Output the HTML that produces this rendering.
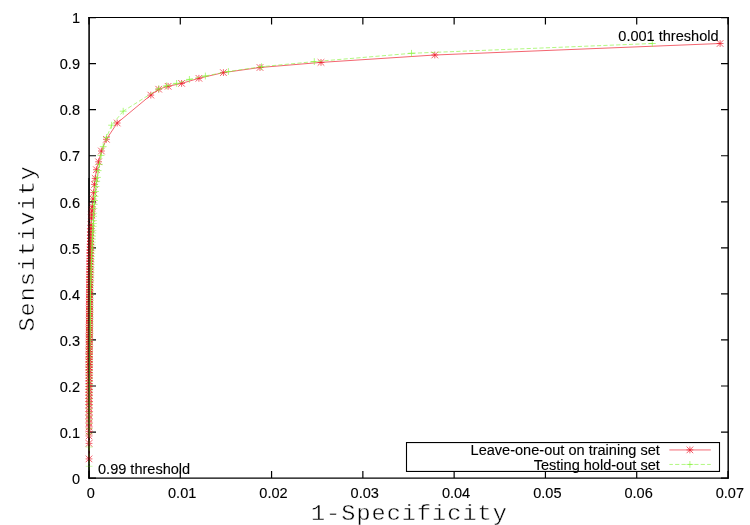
<!DOCTYPE html>
<html lang="en"><head><meta charset="utf-8"><title>ROC curve</title>
<style>html,body{margin:0;padding:0;background:#fff}body{width:750px;height:525px;overflow:hidden}svg{display:block}
.t{font-family:"Liberation Sans",Arial,sans-serif;font-size:14.55px;fill:#000;stroke:#000;stroke-width:0.12px}
.m{font-family:"Liberation Mono","DejaVu Sans Mono",monospace;font-size:21.8px;letter-spacing:0.95px;fill:#000;stroke:#fff;stroke-width:0.42px;paint-order:fill stroke}
</style></head><body>
<svg width="750" height="525" viewBox="0 0 750 525">
<rect width="750" height="525" fill="#fff"/>
<g stroke="#000" fill="none">
<path d="M89.1 16.9V478.8" stroke-width="1.7" stroke="#161616"/><path d="M728.2 16.9V478.8" stroke-width="1.6" stroke="#161616"/>
<path d="M88.3 17.5H728.7" stroke-width="1.2"/>
<path d="M88.3 478.15H728.7" stroke-width="1.4"/>
<path d="M89 478v-7M89 17.5v7M180.29 478v-7M180.29 17.5v7M271.57 478v-7M271.57 17.5v7M362.86 478v-7M362.86 17.5v7M454.14 478v-7M454.14 17.5v7M545.43 478v-7M545.43 17.5v7M636.71 478v-7M636.71 17.5v7M728 478v-7M728 17.5v7M89 478.1h7M728 478.1h-7M89 432.05h7M728 432.05h-7M89 386h7M728 386h-7M89 339.95h7M728 339.95h-7M89 293.9h7M728 293.9h-7M89 247.85h7M728 247.85h-7M89 201.8h7M728 201.8h-7M89 155.75h7M728 155.75h-7M89 109.7h7M728 109.7h-7M89 63.65h7M728 63.65h-7M89 17.6h7M728 17.6h-7" stroke-width="1.2"/>
</g>
<g class="t">
<text x="80" y="483.8" text-anchor="end">0</text>
<text x="80" y="437.75" text-anchor="end">0.1</text>
<text x="80" y="391.7" text-anchor="end">0.2</text>
<text x="80" y="345.65" text-anchor="end">0.3</text>
<text x="80" y="299.6" text-anchor="end">0.4</text>
<text x="80" y="253.55" text-anchor="end">0.5</text>
<text x="80" y="207.5" text-anchor="end">0.6</text>
<text x="80" y="161.45" text-anchor="end">0.7</text>
<text x="80" y="115.4" text-anchor="end">0.8</text>
<text x="80" y="69.35" text-anchor="end">0.9</text>
<text x="80" y="23.3" text-anchor="end">1</text>
<text x="90.9" y="498" text-anchor="middle">0</text>
<text x="182.19" y="498" text-anchor="middle">0.01</text>
<text x="273.47" y="498" text-anchor="middle">0.02</text>
<text x="364.76" y="498" text-anchor="middle">0.03</text>
<text x="456.04" y="498" text-anchor="middle">0.04</text>
<text x="547.33" y="498" text-anchor="middle">0.05</text>
<text x="638.61" y="498" text-anchor="middle">0.06</text>
<text x="729.9" y="498" text-anchor="middle">0.07</text>
</g>
<text class="m" transform="translate(409.4 519.6) scale(1.08 1)" text-anchor="middle">1-Specificity</text>
<text class="m" transform="translate(34.4 248.3) rotate(-90) scale(1.08 1)" text-anchor="middle">Sensitivity</text>
<g fill="none" stroke="#ee1c2c">
<path d="M720.1 43.5L434.8 55L321 62.4L260 67.5L223.4 72.6L198.9 78.3L181.6 83.4L168.1 86.3L158.7 89.2L150.8 95.1L117.2 123L106.4 139.3L101.4 151L98.6 161.8L96.4 169.7L95.2 178.4L94.5 184.4L93.7 192.6L93 199L92.3 206.7L91.9 211L91.6 214.9L91.4 218.1L91 225.1L90.9 228.5L90.75 232L90.6 235.2L90.53 238.27L90.46 241.29L90.39 244.27L90.33 247.2L90.26 250.09L90.2 252.94L90.14 255.74L90.08 258.5L90.02 261.23L89.98 263.92L89.95 266.59L89.91 269.24L89.88 271.87L89.85 274.48L89.82 277.07L89.79 279.64L89.76 282.2L89.73 284.73L89.7 287.24L89.67 289.74L89.64 292.22L89.61 294.67L89.58 297.11L89.56 299.54L89.54 301.94L89.52 304.33L89.5 306.72L89.49 309.1L89.47 311.47L89.45 313.83L89.44 316.18L89.42 318.53L89.4 320.87L89.39 323.2L89.37 325.52L89.36 327.83L89.34 330.14L89.32 332.44L89.31 334.77L89.29 337.12L89.27 339.49L89.26 341.88L89.24 344.3L89.22 346.74L89.21 349.21L89.19 351.7L89.19 354.22L89.18 356.76L89.17 359.33L89.16 361.92L89.16 364.54L89.15 367.19L89.14 369.86L89.13 372.56L89.12 375.28L89.12 378.04L89.11 380.82L89.1 383.62L89.09 386.46L89.08 389.33L89.07 392.22L89.06 395.19L89.06 398.26L89.05 401.42L89.05 404.69L89.04 408.06L89.04 411.53L89.04 415.12L89.04 418.83L89.04 422.9L89.03 426.9L89.03 431.4L89.03 436L89.02 443.4L89.01 458.9" stroke-width="0.68" stroke-linejoin="round"/>
<path d="M716.7 43.5h6.8M720.1 40.1v6.8M716.8 40.2l6.6 6.6M716.8 46.8l6.6 -6.6M431.4 55h6.8M434.8 51.6v6.8M431.5 51.7l6.6 6.6M431.5 58.3l6.6 -6.6M317.6 62.4h6.8M321 59v6.8M317.7 59.1l6.6 6.6M317.7 65.7l6.6 -6.6M256.6 67.5h6.8M260 64.1v6.8M256.7 64.2l6.6 6.6M256.7 70.8l6.6 -6.6M220 72.6h6.8M223.4 69.2v6.8M220.1 69.3l6.6 6.6M220.1 75.9l6.6 -6.6M195.5 78.3h6.8M198.9 74.9v6.8M195.6 75l6.6 6.6M195.6 81.6l6.6 -6.6M178.2 83.4h6.8M181.6 80v6.8M178.3 80.1l6.6 6.6M178.3 86.7l6.6 -6.6M164.7 86.3h6.8M168.1 82.9v6.8M164.8 83l6.6 6.6M164.8 89.6l6.6 -6.6M155.3 89.2h6.8M158.7 85.8v6.8M155.4 85.9l6.6 6.6M155.4 92.5l6.6 -6.6M147.4 95.1h6.8M150.8 91.7v6.8M147.5 91.8l6.6 6.6M147.5 98.4l6.6 -6.6M113.8 123h6.8M117.2 119.6v6.8M113.9 119.7l6.6 6.6M113.9 126.3l6.6 -6.6M103 139.3h6.8M106.4 135.9v6.8M103.1 136l6.6 6.6M103.1 142.6l6.6 -6.6M98 151h6.8M101.4 147.6v6.8M98.1 147.7l6.6 6.6M98.1 154.3l6.6 -6.6M95.2 161.8h6.8M98.6 158.4v6.8M95.3 158.5l6.6 6.6M95.3 165.1l6.6 -6.6M93 169.7h6.8M96.4 166.3v6.8M93.1 166.4l6.6 6.6M93.1 173l6.6 -6.6M91.8 178.4h6.8M95.2 175v6.8M91.9 175.1l6.6 6.6M91.9 181.7l6.6 -6.6M91.1 184.4h6.8M94.5 181v6.8M91.2 181.1l6.6 6.6M91.2 187.7l6.6 -6.6M90.3 192.6h6.8M93.7 189.2v6.8M90.4 189.3l6.6 6.6M90.4 195.9l6.6 -6.6M89.6 199h6.8M93 195.6v6.8M89.7 195.7l6.6 6.6M89.7 202.3l6.6 -6.6" stroke-width="0.7"/>
<path d="M88.9 206.7h6.8M92.3 203.3v6.8M89 203.4l6.6 6.6M89 210l6.6 -6.6M88.5 211h6.8M91.9 207.6v6.8M88.6 207.7l6.6 6.6M88.6 214.3l6.6 -6.6M88.2 214.9h6.8M91.6 211.5v6.8M88.3 211.6l6.6 6.6M88.3 218.2l6.6 -6.6M88 218.1h6.8M91.4 214.7v6.8M88.1 214.8l6.6 6.6M88.1 221.4l6.6 -6.6M87.6 225.1h6.8M91 221.7v6.8M87.7 221.8l6.6 6.6M87.7 228.4l6.6 -6.6M87.5 228.5h6.8M90.9 225.1v6.8M87.6 225.2l6.6 6.6M87.6 231.8l6.6 -6.6M87.35 232h6.8M90.75 228.6v6.8M87.45 228.7l6.6 6.6M87.45 235.3l6.6 -6.6M87.2 235.2h6.8M90.6 231.8v6.8M87.3 231.9l6.6 6.6M87.3 238.5l6.6 -6.6M87.13 238.27h6.8M90.53 234.87v6.8M87.23 234.97l6.6 6.6M87.23 241.57l6.6 -6.6" stroke-width="0.82"/>
<path d="M87.06 241.29h6.8M90.46 237.89v6.8M87.16 237.99l6.6 6.6M87.16 244.59l6.6 -6.6M86.99 244.27h6.8M90.39 240.87v6.8M87.09 240.97l6.6 6.6M87.09 247.57l6.6 -6.6M86.93 247.2h6.8M90.33 243.8v6.8M87.03 243.9l6.6 6.6M87.03 250.5l6.6 -6.6M86.86 250.09h6.8M90.26 246.69v6.8M86.96 246.79l6.6 6.6M86.96 253.39l6.6 -6.6M86.8 252.94h6.8M90.2 249.54v6.8M86.9 249.64l6.6 6.6M86.9 256.24l6.6 -6.6M86.74 255.74h6.8M90.14 252.34v6.8M86.84 252.44l6.6 6.6M86.84 259.04l6.6 -6.6M86.68 258.5h6.8M90.08 255.1v6.8M86.78 255.2l6.6 6.6M86.78 261.8l6.6 -6.6M86.62 261.23h6.8M90.02 257.83v6.8M86.72 257.93l6.6 6.6M86.72 264.53l6.6 -6.6M86.58 263.92h6.8M89.98 260.52v6.8M86.68 260.62l6.6 6.6M86.68 267.22l6.6 -6.6M86.55 266.59h6.8M89.95 263.19v6.8M86.65 263.29l6.6 6.6M86.65 269.89l6.6 -6.6M86.51 269.24h6.8M89.91 265.84v6.8M86.61 265.94l6.6 6.6M86.61 272.54l6.6 -6.6M86.48 271.87h6.8M89.88 268.47v6.8M86.58 268.57l6.6 6.6M86.58 275.17l6.6 -6.6M86.45 274.48h6.8M89.85 271.08v6.8M86.55 271.18l6.6 6.6M86.55 277.78l6.6 -6.6M86.42 277.07h6.8M89.82 273.67v6.8M86.52 273.77l6.6 6.6M86.52 280.37l6.6 -6.6M86.39 279.64h6.8M89.79 276.24v6.8M86.49 276.34l6.6 6.6M86.49 282.94l6.6 -6.6M86.36 282.2h6.8M89.76 278.8v6.8M86.46 278.9l6.6 6.6M86.46 285.5l6.6 -6.6M86.33 284.73h6.8M89.73 281.33v6.8M86.43 281.43l6.6 6.6M86.43 288.03l6.6 -6.6M86.3 287.24h6.8M89.7 283.84v6.8M86.4 283.94l6.6 6.6M86.4 290.54l6.6 -6.6M86.27 289.74h6.8M89.67 286.34v6.8M86.37 286.44l6.6 6.6M86.37 293.04l6.6 -6.6M86.24 292.22h6.8M89.64 288.82v6.8M86.34 288.92l6.6 6.6M86.34 295.52l6.6 -6.6M86.21 294.67h6.8M89.61 291.27v6.8M86.31 291.37l6.6 6.6M86.31 297.97l6.6 -6.6M86.18 297.11h6.8M89.58 293.71v6.8M86.28 293.81l6.6 6.6M86.28 300.41l6.6 -6.6M86.16 299.54h6.8M89.56 296.14v6.8M86.26 296.24l6.6 6.6M86.26 302.84l6.6 -6.6M86.14 301.94h6.8M89.54 298.54v6.8M86.24 298.64l6.6 6.6M86.24 305.24l6.6 -6.6M86.12 304.33h6.8M89.52 300.93v6.8M86.22 301.03l6.6 6.6M86.22 307.63l6.6 -6.6M86.1 306.72h6.8M89.5 303.32v6.8M86.2 303.42l6.6 6.6M86.2 310.02l6.6 -6.6M86.09 309.1h6.8M89.49 305.7v6.8M86.19 305.8l6.6 6.6M86.19 312.4l6.6 -6.6M86.07 311.47h6.8M89.47 308.07v6.8M86.17 308.17l6.6 6.6M86.17 314.77l6.6 -6.6M86.05 313.83h6.8M89.45 310.43v6.8M86.15 310.53l6.6 6.6M86.15 317.13l6.6 -6.6M86.04 316.18h6.8M89.44 312.78v6.8M86.14 312.88l6.6 6.6M86.14 319.48l6.6 -6.6M86.02 318.53h6.8M89.42 315.13v6.8M86.12 315.23l6.6 6.6M86.12 321.83l6.6 -6.6M86 320.87h6.8M89.4 317.47v6.8M86.1 317.57l6.6 6.6M86.1 324.17l6.6 -6.6M85.99 323.2h6.8M89.39 319.8v6.8M86.09 319.9l6.6 6.6M86.09 326.5l6.6 -6.6M85.97 325.52h6.8M89.37 322.12v6.8M86.07 322.22l6.6 6.6M86.07 328.82l6.6 -6.6M85.96 327.83h6.8M89.36 324.43v6.8M86.06 324.53l6.6 6.6M86.06 331.13l6.6 -6.6M85.94 330.14h6.8M89.34 326.74v6.8M86.04 326.84l6.6 6.6M86.04 333.44l6.6 -6.6M85.92 332.44h6.8M89.32 329.04v6.8M86.02 329.14l6.6 6.6M86.02 335.74l6.6 -6.6M85.91 334.77h6.8M89.31 331.37v6.8M86.01 331.47l6.6 6.6M86.01 338.07l6.6 -6.6M85.89 337.12h6.8M89.29 333.72v6.8M85.99 333.82l6.6 6.6M85.99 340.42l6.6 -6.6M85.87 339.49h6.8M89.27 336.09v6.8M85.97 336.19l6.6 6.6M85.97 342.79l6.6 -6.6M85.86 341.88h6.8M89.26 338.48v6.8M85.96 338.58l6.6 6.6M85.96 345.18l6.6 -6.6M85.84 344.3h6.8M89.24 340.9v6.8M85.94 341l6.6 6.6M85.94 347.6l6.6 -6.6M85.82 346.74h6.8M89.22 343.34v6.8M85.92 343.44l6.6 6.6M85.92 350.04l6.6 -6.6M85.81 349.21h6.8M89.21 345.81v6.8M85.91 345.91l6.6 6.6M85.91 352.51l6.6 -6.6M85.79 351.7h6.8M89.19 348.3v6.8M85.89 348.4l6.6 6.6M85.89 355l6.6 -6.6M85.79 354.22h6.8M89.19 350.82v6.8M85.89 350.92l6.6 6.6M85.89 357.52l6.6 -6.6M85.78 356.76h6.8M89.18 353.36v6.8M85.88 353.46l6.6 6.6M85.88 360.06l6.6 -6.6M85.77 359.33h6.8M89.17 355.93v6.8M85.87 356.03l6.6 6.6M85.87 362.63l6.6 -6.6M85.76 361.92h6.8M89.16 358.52v6.8M85.86 358.62l6.6 6.6M85.86 365.22l6.6 -6.6M85.76 364.54h6.8M89.16 361.14v6.8M85.86 361.24l6.6 6.6M85.86 367.84l6.6 -6.6M85.75 367.19h6.8M89.15 363.79v6.8M85.85 363.89l6.6 6.6M85.85 370.49l6.6 -6.6M85.74 369.86h6.8M89.14 366.46v6.8M85.84 366.56l6.6 6.6M85.84 373.16l6.6 -6.6" stroke-width="0.95"/>
<path d="M85.73 372.56h6.8M89.13 369.16v6.8M85.83 369.26l6.6 6.6M85.83 375.86l6.6 -6.6M85.72 375.28h6.8M89.12 371.88v6.8M85.82 371.98l6.6 6.6M85.82 378.58l6.6 -6.6M85.72 378.04h6.8M89.12 374.64v6.8M85.82 374.74l6.6 6.6M85.82 381.34l6.6 -6.6M85.71 380.82h6.8M89.11 377.42v6.8M85.81 377.52l6.6 6.6M85.81 384.12l6.6 -6.6M85.7 383.62h6.8M89.1 380.22v6.8M85.8 380.32l6.6 6.6M85.8 386.92l6.6 -6.6M85.69 386.46h6.8M89.09 383.06v6.8M85.79 383.16l6.6 6.6M85.79 389.76l6.6 -6.6M85.68 389.33h6.8M89.08 385.93v6.8M85.78 386.03l6.6 6.6M85.78 392.63l6.6 -6.6M85.67 392.22h6.8M89.07 388.82v6.8M85.77 388.92l6.6 6.6M85.77 395.52l6.6 -6.6M85.66 395.19h6.8M89.06 391.79v6.8M85.76 391.89l6.6 6.6M85.76 398.49l6.6 -6.6M85.66 398.26h6.8M89.06 394.86v6.8M85.76 394.96l6.6 6.6M85.76 401.56l6.6 -6.6M85.65 401.42h6.8M89.05 398.02v6.8M85.75 398.12l6.6 6.6M85.75 404.72l6.6 -6.6M85.65 404.69h6.8M89.05 401.29v6.8M85.75 401.39l6.6 6.6M85.75 407.99l6.6 -6.6" stroke-width="0.82"/>
<path d="M85.64 408.06h6.8M89.04 404.66v6.8M85.74 404.76l6.6 6.6M85.74 411.36l6.6 -6.6M85.64 411.53h6.8M89.04 408.13v6.8M85.74 408.23l6.6 6.6M85.74 414.83l6.6 -6.6M85.64 415.12h6.8M89.04 411.72v6.8M85.74 411.82l6.6 6.6M85.74 418.42l6.6 -6.6M85.64 418.83h6.8M89.04 415.43v6.8M85.74 415.53l6.6 6.6M85.74 422.13l6.6 -6.6M85.64 422.9h6.8M89.04 419.5v6.8M85.74 419.6l6.6 6.6M85.74 426.2l6.6 -6.6M85.63 426.9h6.8M89.03 423.5v6.8M85.73 423.6l6.6 6.6M85.73 430.2l6.6 -6.6M85.63 431.4h6.8M89.03 428v6.8M85.73 428.1l6.6 6.6M85.73 434.7l6.6 -6.6M85.63 436h6.8M89.03 432.6v6.8M85.73 432.7l6.6 6.6M85.73 439.3l6.6 -6.6M85.62 443.4h6.8M89.02 440v6.8M85.72 440.1l6.6 6.6M85.72 446.7l6.6 -6.6M85.61 458.9h6.8M89.01 455.5v6.8M85.71 455.6l6.6 6.6M85.71 462.2l6.6 -6.6" stroke-width="0.7"/>
</g>
<g fill="none" stroke="#88f43c">
<path d="M652.3 43.5L411.5 53.3M411.5 53.3L314.3 61.6M314.3 61.6L261.5 66.7M261.5 66.7L228.4 71.5M228.4 71.5L205.4 76M205.4 76L189.4 79.4M189.4 79.4L176.6 83.4M176.6 83.4L166.6 85.8M166.6 85.8L158.8 88.8M158.8 88.8L123.2 111.2M123.2 111.2L111.6 125.2M111.6 125.2L106.6 137.4M106.6 137.4L103.2 146.6M103.2 146.6L101 155.4M101 155.4L99.4 164.4M99.4 164.4L98.1 170.6M98.1 170.6L97.4 177.4M97.4 177.4L96.7 181.3M96.7 181.3L96 186.5M96 186.5L95.5 191.5M95.5 191.5L95 196.3M95 196.3L94.5 200.5M94.5 200.5L94.2 204.3M94.2 204.3L93.9 208.5M93.9 208.5L93.7 213.3M93.7 213.3L93.6 216.3M93.6 216.3L93.4 220.5M93.4 220.5L93.3 223.5M93.3 223.5L93.15 226.4M93.15 226.4L92.95 230.4M92.95 230.4L92.8 233M92.8 233L92.65 236.1M92.65 236.1L92.5 239.15M92.5 239.15L92.36 242.16M92.36 242.16L92.21 245.13M92.21 245.13L92.07 248.05M92.07 248.05L91.93 250.92M91.93 250.92L91.8 253.76M91.8 253.76L91.66 256.55M91.66 256.55L91.53 259.3M91.53 259.3L91.4 262.01M91.4 262.01L91.31 264.7M91.31 264.7L91.23 267.36M91.23 267.36L91.14 270.01M91.14 270.01L91.06 272.63M91.06 272.63L90.97 275.24M90.97 275.24L90.89 277.82M90.89 277.82L90.81 280.39M90.81 280.39L90.73 282.94M90.73 282.94L90.65 285.46M90.65 285.46L90.57 287.97M90.57 287.97L90.5 290.46M90.5 290.46L90.47 292.94M90.47 292.94L90.45 295.39M90.45 295.39L90.42 297.82M90.42 297.82L90.4 300.24M90.4 300.24L90.37 302.64M90.37 302.64L90.35 305.03M90.35 305.03L90.33 307.41M90.33 307.41L90.3 309.79M90.3 309.79L90.28 312.16M90.28 312.16L90.25 314.52M90.25 314.52L90.23 316.87M90.23 316.87L90.21 319.21M90.21 319.21L90.17 321.55M90.17 321.55L90.12 323.87M90.12 323.87L90.08 326.2M90.08 326.2L90.03 328.51M90.03 328.51L89.98 330.81M89.98 330.81L89.94 333.12M89.94 333.12L89.89 335.45M89.89 335.45L89.84 337.81M89.84 337.81L89.8 340.18M89.8 340.18L89.75 342.59M89.75 342.59L89.7 345.01M89.7 345.01L89.65 347.46M89.65 347.46L89.6 349.94M89.6 349.94L89.59 352.44M89.59 352.44L89.57 354.96M89.57 354.96L89.55 357.51M89.55 357.51L89.54 360.09M89.54 360.09L89.52 362.69M89.52 362.69L89.51 365.31M89.51 365.31L89.49 367.97M89.49 367.97L89.48 370.65M89.48 370.65L89.46 373.35M89.46 373.35L89.44 376.09M89.44 376.09L89.43 378.85M89.43 378.85L89.41 381.64M89.41 381.64L89.39 384.45M89.39 384.45L89.38 387.3M89.38 387.3L89.36 390.17M89.36 390.17L89.34 393.07M89.34 393.07L89.32 396.07M89.32 396.07L89.3 399.17M89.3 399.17L89.29 402.36M89.29 402.36L89.29 405.66M89.29 405.66L89.28 409.06M89.28 409.06L89.27 412.57M89.27 412.57L89.26 416.19M89.26 416.19L89.25 419.92M89.25 419.92L89.24 423.4M89.24 423.4L89.23 428.6M89.23 428.6L89.22 433.7M89.22 433.7L89.18 447M89.18 447L89.13 466.3" stroke-width="0.64" stroke-dasharray="4.2 2.2"/>
<path d="M648.9 43.5h6.8M652.3 40.1v6.8M408.1 53.3h6.8M411.5 49.9v6.8M310.9 61.6h6.8M314.3 58.2v6.8M258.1 66.7h6.8M261.5 63.3v6.8M225 71.5h6.8M228.4 68.1v6.8M202 76h6.8M205.4 72.6v6.8M186 79.4h6.8M189.4 76v6.8M173.2 83.4h6.8M176.6 80v6.8M163.2 85.8h6.8M166.6 82.4v6.8M155.4 88.8h6.8M158.8 85.4v6.8M119.8 111.2h6.8M123.2 107.8v6.8M108.2 125.2h6.8M111.6 121.8v6.8M103.2 137.4h6.8M106.6 134v6.8M99.8 146.6h6.8M103.2 143.2v6.8M97.6 155.4h6.8M101 152v6.8M96 164.4h6.8M99.4 161v6.8M94.7 170.6h6.8M98.1 167.2v6.8M94 177.4h6.8M97.4 174v6.8M93.3 181.3h6.8M96.7 177.9v6.8M92.6 186.5h6.8M96 183.1v6.8M92.1 191.5h6.8M95.5 188.1v6.8M91.6 196.3h6.8M95 192.9v6.8M91.1 200.5h6.8M94.5 197.1v6.8M90.8 204.3h6.8M94.2 200.9v6.8" stroke-width="0.65"/>
<path d="M90.5 208.5h6.8M93.9 205.1v6.8M90.3 213.3h6.8M93.7 209.9v6.8M90.2 216.3h6.8M93.6 212.9v6.8M90 220.5h6.8M93.4 217.1v6.8M89.9 223.5h6.8M93.3 220.1v6.8M89.75 226.4h6.8M93.15 223v6.8M89.55 230.4h6.8M92.95 227v6.8M89.4 233h6.8M92.8 229.6v6.8M89.25 236.1h6.8M92.65 232.7v6.8M89.1 239.15h6.8M92.5 235.75v6.8" stroke-width="0.55"/>
<path d="M88.96 242.16h6.8M92.36 238.76v6.8M88.81 245.13h6.8M92.21 241.73v6.8M88.67 248.05h6.8M92.07 244.65v6.8M88.53 250.92h6.8M91.93 247.52v6.8M88.4 253.76h6.8M91.8 250.36v6.8M88.26 256.55h6.8M91.66 253.15v6.8M88.13 259.3h6.8M91.53 255.9v6.8M88 262.01h6.8M91.4 258.61v6.8M87.91 264.7h6.8M91.31 261.3v6.8M87.83 267.36h6.8M91.23 263.96v6.8M87.74 270.01h6.8M91.14 266.61v6.8M87.66 272.63h6.8M91.06 269.23v6.8M87.57 275.24h6.8M90.97 271.84v6.8M87.49 277.82h6.8M90.89 274.42v6.8M87.41 280.39h6.8M90.81 276.99v6.8M87.33 282.94h6.8M90.73 279.54v6.8M87.25 285.46h6.8M90.65 282.06v6.8M87.17 287.97h6.8M90.57 284.57v6.8M87.1 290.46h6.8M90.5 287.06v6.8M87.07 292.94h6.8M90.47 289.54v6.8M87.05 295.39h6.8M90.45 291.99v6.8M87.02 297.82h6.8M90.42 294.42v6.8M87 300.24h6.8M90.4 296.84v6.8M86.97 302.64h6.8M90.37 299.24v6.8M86.95 305.03h6.8M90.35 301.63v6.8M86.93 307.41h6.8M90.33 304.01v6.8M86.9 309.79h6.8M90.3 306.39v6.8M86.88 312.16h6.8M90.28 308.76v6.8M86.85 314.52h6.8M90.25 311.12v6.8M86.83 316.87h6.8M90.23 313.47v6.8M86.81 319.21h6.8M90.21 315.81v6.8M86.77 321.55h6.8M90.17 318.15v6.8M86.72 323.87h6.8M90.12 320.47v6.8M86.68 326.2h6.8M90.08 322.8v6.8M86.63 328.51h6.8M90.03 325.11v6.8M86.58 330.81h6.8M89.98 327.41v6.8M86.54 333.12h6.8M89.94 329.72v6.8M86.49 335.45h6.8M89.89 332.05v6.8M86.44 337.81h6.8M89.84 334.41v6.8M86.4 340.18h6.8M89.8 336.78v6.8M86.35 342.59h6.8M89.75 339.19v6.8M86.3 345.01h6.8M89.7 341.61v6.8M86.25 347.46h6.8M89.65 344.06v6.8M86.2 349.94h6.8M89.6 346.54v6.8M86.19 352.44h6.8M89.59 349.04v6.8M86.17 354.96h6.8M89.57 351.56v6.8M86.15 357.51h6.8M89.55 354.11v6.8M86.14 360.09h6.8M89.54 356.69v6.8M86.12 362.69h6.8M89.52 359.29v6.8M86.11 365.31h6.8M89.51 361.91v6.8M86.09 367.97h6.8M89.49 364.57v6.8M86.08 370.65h6.8M89.48 367.25v6.8M86.06 373.35h6.8M89.46 369.95v6.8M86.04 376.09h6.8M89.44 372.69v6.8M86.03 378.85h6.8M89.43 375.45v6.8M86.01 381.64h6.8M89.41 378.24v6.8M85.99 384.45h6.8M89.39 381.05v6.8M85.98 387.3h6.8M89.38 383.9v6.8M85.96 390.17h6.8M89.36 386.77v6.8M85.94 393.07h6.8M89.34 389.67v6.8M85.92 396.07h6.8M89.32 392.67v6.8M85.9 399.17h6.8M89.3 395.77v6.8M85.89 402.36h6.8M89.29 398.96v6.8M85.89 405.66h6.8M89.29 402.26v6.8M85.88 409.06h6.8M89.28 405.66v6.8M85.87 412.57h6.8M89.27 409.17v6.8M85.86 416.19h6.8M89.26 412.79v6.8M85.85 419.92h6.8M89.25 416.52v6.8M85.84 423.4h6.8M89.24 420v6.8M85.83 428.6h6.8M89.23 425.2v6.8M85.82 433.7h6.8M89.22 430.3v6.8M85.78 447h6.8M89.18 443.6v6.8M85.73 466.3h6.8M89.13 462.9v6.8" stroke-width="0.45"/>
</g>
<path d="M88.95 178V478" stroke="#000" stroke-opacity="0.7" stroke-width="1.5" fill="none"/>
<g class="t">
<text x="718.6" y="40.7" text-anchor="end">0.001 threshold</text>
<text x="98" y="473.5">0.99 threshold</text>
</g>
<rect x="406.5" y="442.55" width="313" height="28.9" fill="none" stroke="#000" stroke-width="1.1"/>
<g class="t">
<text x="659.8" y="455.1" text-anchor="end">Leave-one-out on training set</text>
<text x="659.8" y="470.1" text-anchor="end">Testing hold-out set</text>
</g>
<g fill="none" stroke="#ee1c2c">
<path d="M669.4 449.95H710.8" stroke-width="0.66"/>
<path d="M686.5 449.9h6.8M689.9 446.5v6.8M686.6 446.6l6.6 6.6M686.6 453.2l6.6 -6.6" stroke-width="0.7"/>
</g>
<g fill="none" stroke="#88f43c">
<path d="M669.4 464.45H710.8" stroke-width="0.64" stroke-dasharray="4.2 2.2" stroke-dashoffset="0.7"/>
<path d="M686.5 464.45h6.8M689.9 461.05v6.8" stroke-width="0.65"/>
</g>
</svg></body></html>
